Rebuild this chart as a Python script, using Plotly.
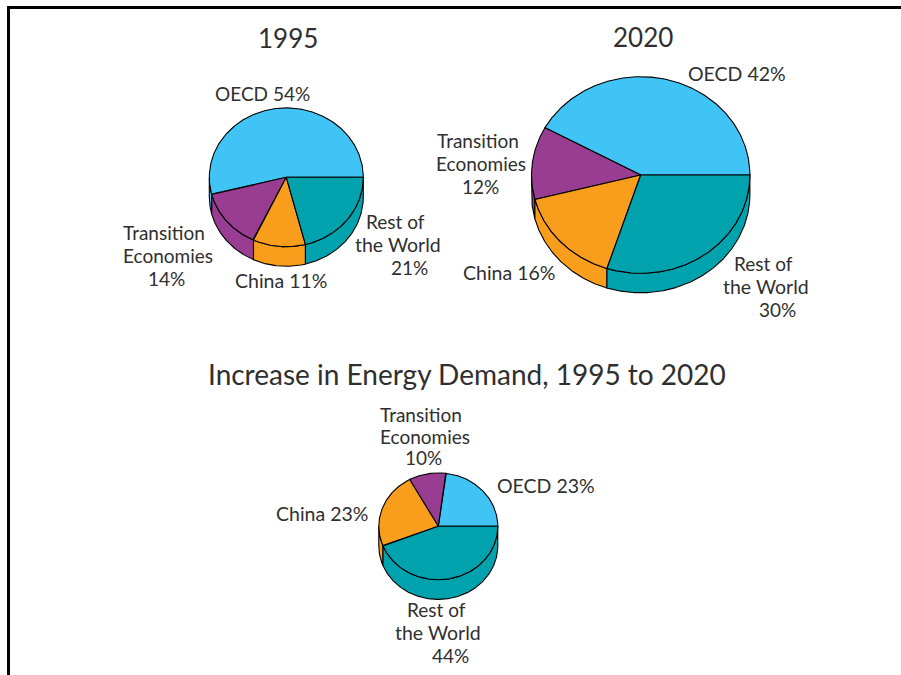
import numpy as np
import plotly.graph_objects as go

# ---- data ----
regions = ["OECD", "Transition Economies", "China", "Rest of the World"]
shares_1995 = [54, 14, 11, 21]
shares_2020 = [42, 12, 16, 30]
shares_increase = [23, 10, 23, 44]

# ---- styles / layout ----
colors = ["#40C4F5", "#983D92", "#F99D1C", "#00A3AD"]
pies = [
    (shares_1995, 286.3, 177.3, 77, 69.4, 19.6),
    (shares_2020, 640.7, 175, 109.2, 98.3, 19.5),
    (shares_increase, 438.3, 526.3, 59.5, 53.4, 19.7),
]
FONT = "Lato"
TEXT = "#2f2f2f"
labels = [
    ("1995", 288, 38, 26), ("2020", 643, 37, 26),
    ("Increase in Energy Demand, 1995 to 2020", 467, 374, 28),
    ("OECD 54%", 262, 93, 19),
    ("Transition", 164, 232, 19), ("Economies", 168, 255, 19), ("14%", 166, 278, 19),
    ("China 11%", 281, 280, 19.5),
    ("Rest of", 395, 221, 19), ("the World", 398, 244, 19.5), ("21%", 409, 267, 19),
    ("OECD 42%", 737, 73, 19.5),
    ("Transition", 478, 140, 19), ("Economies", 481, 163, 19), ("12%", 480, 186, 19),
    ("China 16%", 509, 272, 19.5),
    ("Rest of", 763, 263, 19), ("the World", 766, 286, 19.5), ("30%", 777, 309, 19),
    ("Transition", 421, 414.5, 19), ("Economies", 425, 436, 19), ("10%", 423, 457.5, 19),
    ("OECD 23%", 546, 485, 19.5),
    ("China 23%", 322, 513, 19.5),
    ("Rest of", 436, 609, 19), ("the World", 438, 632, 19.5), ("44%", 450, 655, 19),
]


def arc(cx, cy, rx, ry, a0, a1, dy=0.0):
    t = np.radians(np.linspace(a0, a1, max(int(abs(a1 - a0) * 2), 2)))
    return cx + rx * np.cos(t), cy + ry * np.sin(t) + dy


fig = go.Figure()


def add(x, y, color):
    fig.add_trace(go.Scatter(
        x=np.round(x, 2), y=np.round(y, 2), mode="lines", fill="toself", fillcolor=color,
        line=dict(color="black", width=1.1), hoverinfo="skip", showlegend=False,
    ))


for shares, cx, cy, rx, ry, depth in pies:
    # screen y grows downward: counter-clockwise on screen = decreasing parametric angle
    edges = 360 - np.cumsum([0] + shares) * 3.6
    for i, color in enumerate(colors):
        hi, lo = edges[i], edges[i + 1]
        # visible side wall: parametric angles 0..180 (front half)
        a0, a1 = max(lo, 0), min(hi, 180)
        if a1 > a0:
            xt, yt = arc(cx, cy, rx, ry, a0, a1)
            xb, yb = arc(cx, cy, rx, ry, a1, a0, depth)
            add(np.r_[xt, xb, xt[0]], np.r_[yt, yb, yt[0]], color)
    for i, color in enumerate(colors):
        hi, lo = edges[i], edges[i + 1]
        xa, ya = arc(cx, cy, rx, ry, lo, hi)
        add(np.r_[cx, xa, cx], np.r_[cy, ya, cy], color)

for text, x, y, size in labels:
    fig.add_annotation(x=x, y=y, text=text, showarrow=False, xanchor="center", yanchor="middle",
                       font=dict(family=FONT, size=size, color=TEXT))

fig.add_shape(type="line", x0=8.5, x1=901, y0=7.5, y1=7.5, line=dict(color="black", width=3))
fig.add_shape(type="line", x0=8.5, x1=8.5, y0=6, y1=675, line=dict(color="black", width=3))

fig.update_layout(
    width=901, height=675, margin=dict(l=0, r=0, t=0, b=0),
    paper_bgcolor="white", plot_bgcolor="white", showlegend=False,
    xaxis=dict(range=[0, 901], visible=False, fixedrange=True),
    yaxis=dict(range=[675, 0], visible=False, fixedrange=True),
)
fig.write_html("out.html", config={"displayModeBar": False},
               post_script="document.body.style.margin='0';document.body.style.overflow='hidden';")
